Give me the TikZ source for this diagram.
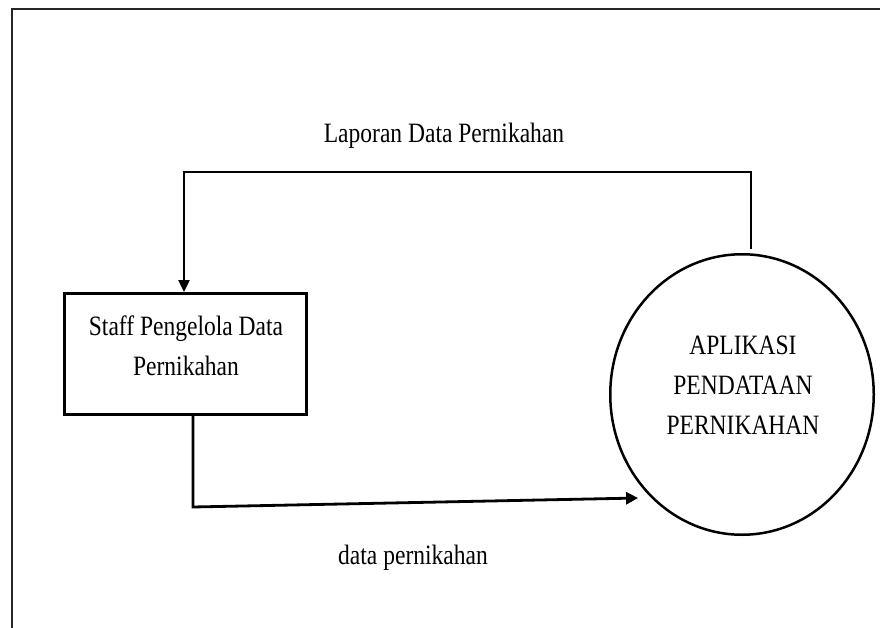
\documentclass[tikz,border=0pt]{standalone}
\usepackage{fontspec}
\setmainfont{Liberation Serif}[FakeStretch=0.84]
\usetikzlibrary{shapes.geometric,arrows.meta}
\tikzset{
  frameline/.style={line width=2pt, draw=black!85},
  entitybox/.style={draw, rectangle, line width=3pt, minimum width=242pt, minimum height=121pt, inner sep=0pt},
  procell/.style={draw, ellipse, line width=2.5pt, minimum width=263.5pt, minimum height=280.5pt, inner sep=0pt},
  lbl/.style={font=\fontsize{28}{40}\selectfont, inner sep=0pt, align=center},
  flow/.style={line width=2.4pt, -{Triangle[length=12pt,width=11pt]}},
  flowb/.style={line width=2.8pt, -{Triangle[length=12pt,width=12pt]}}
}
\begin{document}
\begin{tikzpicture}[x=1pt,y=1pt]
\useasboundingbox (0,0) rectangle (880,-628);
% outer frame
\coordinate (fTL) at (11.5,-9.5);
\coordinate (fTR) at (880,-9.5);
\coordinate (fBL) at (11.5,-628);
\draw[frameline] (fBL) -- (fTL) -- (fTR);
% nodes
\node[entitybox] (staff) at (185.5,-354) {};
\node[lbl] (staffT) at (186,-345.5) {Staff Pengelola Data\\Pernikahan};
\node[procell] (app) at (742,-394.5) {};
\node[lbl] (appT) at (743,-385) {APLIKASI\\PENDATAAN\\PERNIKAHAN};
\node[lbl, anchor=base] (lap) at (444,-143) {Laporan Data Pernikahan};
\node[lbl, anchor=base] (dat) at (413,-564) {data pernikahan};
% connectors
\draw[flow] ([xshift=9pt,yshift=4pt]app.north) -- ++(0,77) -| ([xshift=-1.5pt]staff.north);
\draw[flowb] ([xshift=7.5pt]staff.south) -- ++(0,-91) -- ([shift={(-7pt,-6.6pt)}]app.225);
\end{tikzpicture}
\end{document}
